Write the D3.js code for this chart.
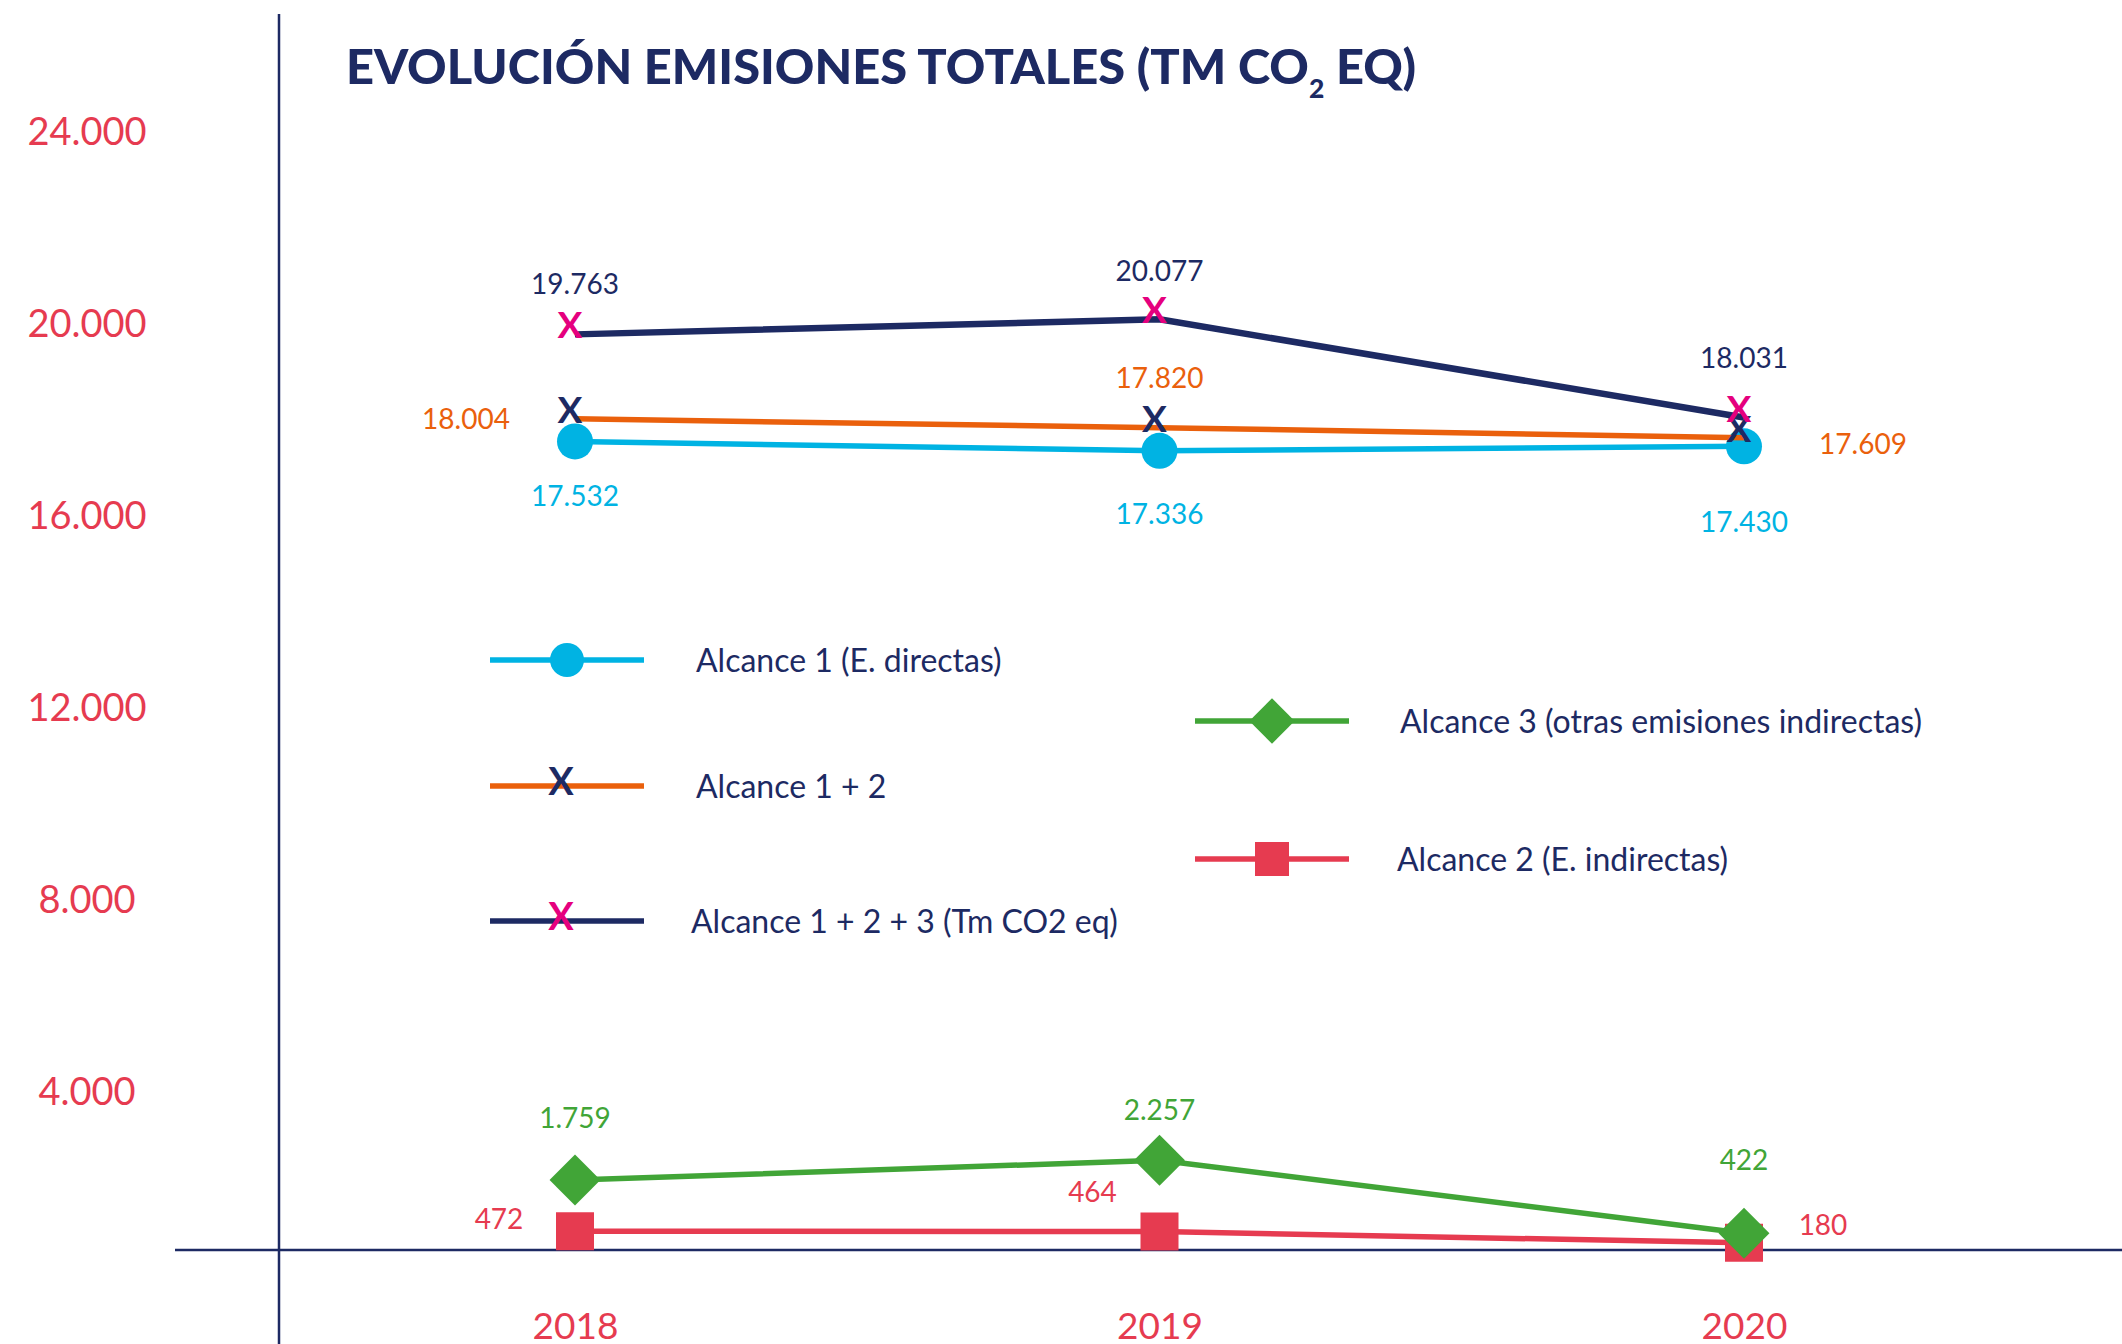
<!DOCTYPE html>
<html>
<head>
<meta charset="utf-8">
<script src="https://cdn.jsdelivr.net/npm/d3@7"></script>
<style>
  html, body { margin: 0; padding: 0; background: #fff; }
  svg { display: block; }
</style>
</head>
<body>
<div id="chart"></div>
<script>
// data (Tm CO2 eq)
var years = ["2018", "2019", "2020"];
var alcance1 = [17532, 17336, 17430];      // Alcance 1 (E. directas)
var alcance12 = [18004, 17820, 17609];     // Alcance 1 + 2
var alcance123 = [19763, 20077, 18031];    // Alcance 1 + 2 + 3
var alcance3 = [1759, 2257, 422];          // Alcance 3 (otras emisiones indirectas)
var alcance2 = [472, 464, 180];            // Alcance 2 (E. indirectas)
var yTicks = [4000, 8000, 12000, 16000, 20000, 24000];

var navy = "#1d2a63",
    pink = "#e5007e",
    orange = "#ea600c",
    cyan = "#00b3e3",
    green = "#41a537",
    red = "#e63b50";

var width = 2122, height = 1344;
var font = "Lato, 'Open Sans', sans-serif";

var svg = d3.select("#chart")
    .append("svg")
    .attr("width", width)
    .attr("height", height);

// spanish number format 17.532
var fmt = d3.formatLocale({decimal: ",", thousands: ".", grouping: [3], currency: ["", " €"]}).format(",d");

// scales - the lower band (0 to 4.000) is drawn a bit stretched in the original
var x = d3.scalePoint()
    .domain(years)
    .range([575, 1744]);
var y = d3.scaleLinear()
    .domain([0, 4000, 24000])
    .range([1250, 1091, 131]);

// y axis labels
var yAxis = svg.append("g")
    .attr("transform", "translate(279,0)")
    .call(d3.axisLeft(y).tickValues(yTicks).tickSize(0).tickFormat(fmt));
yAxis.select(".domain").remove();
yAxis.selectAll("text")
    .attr("x", -192)
    .attr("dy", "0.36em")
    .attr("text-anchor", "middle")
    .attr("fill", red)
    .style("font-family", font)
    .style("font-size", "38px");

// x axis labels
var xAxis = svg.append("g")
    .attr("transform", "translate(0,1250)")
    .call(d3.axisBottom(x).tickSize(0));
xAxis.select(".domain").remove();
xAxis.selectAll("text")
    .attr("y", 89)
    .attr("dy", 0)
    .attr("fill", red)
    .style("font-family", font)
    .style("font-size", "37px");

// axis lines
svg.append("line")
    .attr("x1", 279).attr("x2", 279)
    .attr("y1", 14).attr("y2", height)
    .attr("stroke", navy).attr("stroke-width", 2.5);
svg.append("line")
    .attr("x1", 175).attr("x2", width)
    .attr("y1", y(0)).attr("y2", y(0))
    .attr("stroke", navy).attr("stroke-width", 2.5);

// title
var title = svg.append("text")
    .attr("x", 346)
    .attr("y", 84)
    .attr("fill", navy)
    .style("font-family", font)
    .style("font-weight", 900)
    .style("font-size", "48px")
    .attr("textLength", 1070)
    .attr("lengthAdjust", "spacingAndGlyphs");
title.append("tspan").text("EVOLUCIÓN EMISIONES TOTALES (TM CO");
title.append("tspan").attr("dy", 14).style("font-size", "26px").text("2");
title.append("tspan").attr("dy", -14).text(" EQ)");

var line = d3.line()
    .x(function(d, i) { return x(years[i]); })
    .y(function(d) { return y(d); });

function drawLine(values, color, w) {
    svg.append("path")
        .datum(values)
        .attr("fill", "none")
        .attr("stroke", color)
        .attr("stroke-width", w)
        .attr("d", line);
}

function drawSymbols(values, type, size, color, rotate) {
    svg.selectAll(null)
        .data(values)
        .enter().append("path")
        .attr("d", d3.symbol().type(type).size(size))
        .attr("fill", color)
        .attr("transform", function(d, i) {
            return "translate(" + x(years[i]) + "," + y(d) + ")" + (rotate ? " rotate(45)" : "");
        });
}

function drawX(values, color) {
    svg.selectAll(null)
        .data(values)
        .enter().append("text")
        .attr("x", function(d, i) { return x(years[i]) - 5; })
        .attr("y", function(d) { return y(d) - 9 + 13; })
        .attr("text-anchor", "middle")
        .attr("fill", color)
        .style("font-family", font)
        .style("font-weight", 700)
        .style("font-size", "37px")
        .text("X");
}

// label offsets (dx, dy) from each point, as placed in the original
var labelOffsets = {
    a123: [[0, -50], [0, -48], [0, -60]],
    a12: [[-109, 0], [0, -50], [119, 6]],
    a1: [[0, 54], [0, 63], [0, 76]],
    a3: [[0, -62], [0, -50], [0, -73]],
    a2: [[-76, -12], [-67, -40], [79, -18]]
};

function drawLabels(values, offsets, color) {
    svg.selectAll(null)
        .data(values)
        .enter().append("text")
        .attr("x", function(d, i) { return x(years[i]) + offsets[i][0]; })
        .attr("y", function(d, i) { return y(d) + offsets[i][1]; })
        .attr("dy", "0.36em")
        .attr("text-anchor", "middle")
        .attr("fill", color)
        .style("font-family", font)
        .style("font-size", "28px")
        .text(function(d) { return fmt(d); });
}

// lower series
drawLine(alcance2, red, 5.5);
drawSymbols(alcance2, d3.symbolSquare, 38 * 38, red, false);
drawLine(alcance3, green, 5.5);
drawSymbols(alcance3, d3.symbolSquare, 36 * 36, green, true);

// upper series
drawLine(alcance1, cyan, 5.5);
drawSymbols(alcance1, d3.symbolCircle, Math.PI * 18 * 18, cyan, false);
drawLine(alcance12, orange, 5.5);
drawX(alcance12, navy);
drawLine(alcance123, navy, 6.5);
drawX(alcance123, pink);

drawLabels(alcance123, labelOffsets.a123, navy);
drawLabels(alcance12, labelOffsets.a12, orange);
drawLabels(alcance1, labelOffsets.a1, cyan);
drawLabels(alcance3, labelOffsets.a3, green);
drawLabels(alcance2, labelOffsets.a2, red);

// legend
var legendItems = [
    {name: "Alcance 1 (E. directas)", color: cyan, mark: "circle", lx: 490, ly: 660, tx: 696},
    {name: "Alcance 1 + 2", color: orange, mark: "x", xColor: navy, lx: 490, ly: 786, tx: 696},
    {name: "Alcance 1 + 2 + 3 (Tm CO2 eq)", color: navy, mark: "x", xColor: pink, lx: 490, ly: 921, tx: 691},
    {name: "Alcance 3 (otras emisiones indirectas)", color: green, mark: "diamond", lx: 1195, ly: 721, tx: 1400},
    {name: "Alcance 2 (E. indirectas)", color: red, mark: "square", lx: 1195, ly: 859, tx: 1397}
];

var legend = svg.selectAll(".legend")
    .data(legendItems)
    .enter().append("g")
    .attr("class", "legend");

legend.append("line")
    .attr("x1", function(d) { return d.lx; })
    .attr("x2", function(d) { return d.lx + 154; })
    .attr("y1", function(d) { return d.ly; })
    .attr("y2", function(d) { return d.ly; })
    .attr("stroke", function(d) { return d.color; })
    .attr("stroke-width", 5.5);

legend.filter(function(d) { return d.mark !== "x"; })
    .append("path")
    .attr("d", function(d) {
        if (d.mark === "circle") return d3.symbol().type(d3.symbolCircle).size(Math.PI * 17 * 17)();
        if (d.mark === "diamond") return d3.symbol().type(d3.symbolSquare).size(32 * 32)();
        return d3.symbol().type(d3.symbolSquare).size(34 * 34)();
    })
    .attr("fill", function(d) { return d.color; })
    .attr("transform", function(d) {
        return "translate(" + (d.lx + 77) + "," + d.ly + ")" + (d.mark === "diamond" ? " rotate(45)" : "");
    });

legend.filter(function(d) { return d.mark === "x"; })
    .append("text")
    .attr("x", function(d) { return d.lx + 71; })
    .attr("y", function(d) { return d.ly - 5 + 14; })
    .attr("text-anchor", "middle")
    .attr("fill", function(d) { return d.xColor; })
    .style("font-family", font)
    .style("font-weight", 700)
    .style("font-size", "38px")
    .text("X");

legend.append("text")
    .attr("x", function(d) { return d.tx; })
    .attr("y", function(d) { return d.ly; })
    .attr("dy", "0.36em")
    .attr("fill", navy)
    .style("font-family", font)
    .style("font-size", "32px")
    .text(function(d) { return d.name; });
</script>
</body>
</html>
